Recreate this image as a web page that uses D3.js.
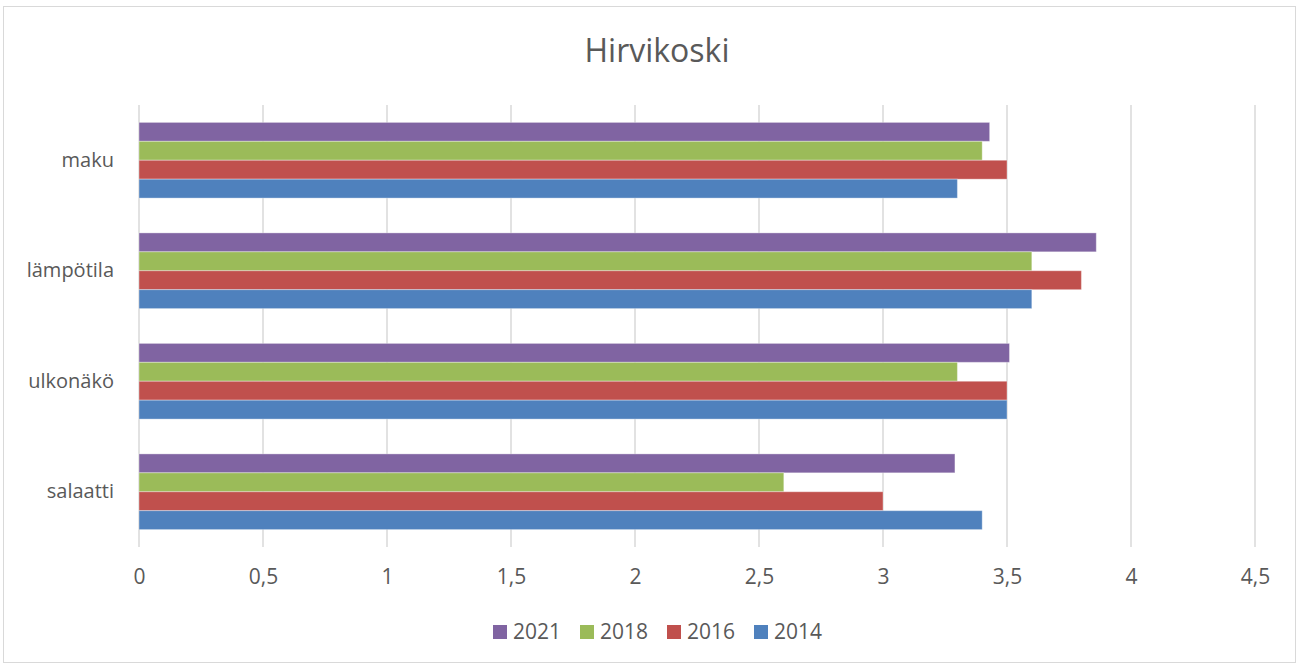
<!DOCTYPE html>
<html>
<head>
<meta charset="utf-8">
<script src="https://cdn.jsdelivr.net/npm/d3@7"></script>
<style>
  body { margin: 0; background: #fff; }
  text { font-family: "Open Sans", sans-serif; fill: #595959; }
</style>
</head>
<body>
<svg id="chart"></svg>
<script>
// data
let categories = ["maku", "lämpötila", "ulkonäkö", "salaatti"];
let seriesNames = ["2021", "2018", "2016", "2014"];
let values2021 = [3.43, 3.86, 3.51, 3.29];
let values2018 = [3.4, 3.6, 3.3, 2.6];
let values2016 = [3.5, 3.8, 3.5, 3.0];
let values2014 = [3.3, 3.6, 3.5, 3.4];
let tickValues = [0, 0.5, 1, 1.5, 2, 2.5, 3, 3.5, 4, 4.5];
let colors = ["#8064A2", "#9BBB59", "#C0504D", "#4F81BD"];

let allSeries = [values2021, values2018, values2016, values2014];

function makeChart() {
  let svg = d3.select('#chart')
      .attr('width', 1299).attr('height', 666);

  // outer border
  svg.append('rect')
      .attr('x', 3.5).attr('y', 6.5)
      .attr('width', 1292).attr('height', 656)
      .attr('fill', 'none').attr('stroke', '#d9d9d9').attr('stroke-width', 1);

  let scX = d3.scaleLinear()
      .domain([0, 4.5])
      .range([139, 1255]);
  let scY = d3.scaleBand()
      .domain(categories)
      .range([105, 547])
      .paddingInner(0.315).paddingOuter(0.1575);
  let scInner = d3.scaleBand()
      .domain(seriesNames)
      .range([0, scY.bandwidth()]);

  // title
  svg.append('text')
      .attr('x', 657).attr('y', 62)
      .attr('text-anchor', 'middle')
      .style('font-size', '32px')
      .text('Hirvikoski');

  // gridlines
  svg.append('g').selectAll('line')
      .data(tickValues).enter().append('line')
      .attr('x1', d => scX(d)).attr('x2', d => scX(d))
      .attr('y1', 105).attr('y2', 547)
      .attr('stroke', '#d9d9d9').attr('stroke-width', 1.5);

  // x axis labels
  let xAxis = d3.axisBottom(scX)
      .tickValues(tickValues)
      .tickSize(0).tickPadding(0)
      .tickFormat(d => String(d).replace('.', ','));
  let gx = svg.append('g')
      .attr('transform', 'translate(0,569)')
      .call(xAxis);
  gx.select('.domain').remove();
  gx.selectAll('text')
      .attr('fill', '#595959')
      .style('font-size', '21px')
      .style('font-family', '"Open Sans", sans-serif');

  // y axis labels
  let yAxis = d3.axisLeft(scY).tickSize(0).tickPadding(0);
  let gy = svg.append('g')
      .attr('transform', 'translate(114,0)')
      .call(yAxis);
  gy.select('.domain').remove();
  gy.selectAll('text')
      .attr('fill', '#595959')
      .style('font-size', '20px')
      .style('font-family', '"Open Sans", sans-serif');

  // bars
  let groups = svg.append('g').selectAll('g')
      .data(categories).enter().append('g')
      .attr('transform', d => 'translate(0,' + scY(d) + ')');

  groups.selectAll('rect')
      .data((cat, ci) => seriesNames.map((s, si) => ({ series: s, si: si, value: allSeries[si][ci] })))
      .enter().append('rect')
      .attr('x', scX(0))
      .attr('y', d => scInner(d.series))
      .attr('width', d => scX(d.value) - scX(0))
      .attr('height', scInner.bandwidth())
      .attr('fill', d => colors[d.si])
      .attr('stroke', 'rgba(255,255,255,0.35)')
      .attr('stroke-width', 1);

  // legend
  let legend = svg.append('g').selectAll('g')
      .data(seriesNames).enter().append('g')
      .attr('transform', (d, i) => 'translate(' + (493 + i * 87) + ',625)');
  legend.append('rect')
      .attr('width', 14).attr('height', 14)
      .attr('fill', (d, i) => colors[i]);
  legend.append('text')
      .attr('x', 20).attr('y', 14)
      .style('font-size', '21px')
      .text(d => d);
}

makeChart();
</script>
</body>
</html>
